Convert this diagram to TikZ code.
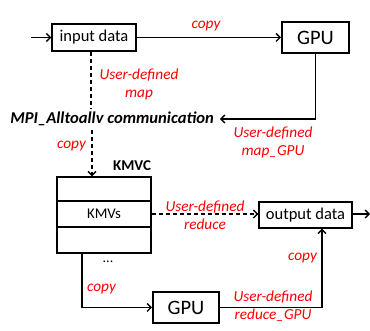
\documentclass[tikz,border=0pt]{standalone}
\usepackage{fontspec}
\setmainfont{Carlito}
\usetikzlibrary{arrows.meta}
\begin{document}
\begin{tikzpicture}[x=1pt,y=-1pt,
  box/.style={draw,line width=1.3pt,inner sep=0pt,font=\fontsize{16.5}{19}\selectfont},
  gpubox/.style={draw,line width=2pt,inner sep=0pt,minimum width=66pt,minimum height=31pt,font=\fontsize{20.5}{24}\selectfont},
  kbox/.style={draw,line width=1.3pt,inner sep=0pt,minimum width=94pt,font=\fontsize{14.8}{17}\selectfont},
  lbl/.style={text=red,font=\fontsize{15.3}{18}\selectfont\itshape,align=center,inner sep=0pt},
  conn/.style={line width=1.4pt},
  arr/.style={conn,-{Straight Barb[length=4pt,width=8pt,line width=1.4pt]}},
  dsh/.style={dash pattern=on 4pt off 3pt}
]
\useasboundingbox (0,0) rectangle (370,331);
% nodes
\node[box,minimum width=84pt,minimum height=27pt] (in) at (94,37.5) {input data};
\node[gpubox,minimum width=67pt] (gpu1) at (315.5,37.5) {GPU};
\node[font=\fontsize{16.6}{19}\selectfont\bfseries\itshape,inner xsep=6pt,inner ysep=4pt] (mpi) at (112,119) {MPI\_Alltoallv communication};
\node[kbox,minimum height=24pt] (k1) at (104,189) {};
\node[kbox,minimum height=26pt] (k2) at (104,214) {KMVs};
\node[kbox,minimum height=26pt] (k3) at (104,240) {};
\node[font=\fontsize{15}{18}\selectfont\bfseries,inner sep=0pt] (kmvc) at (132,166) {KMVC};
\node[box,minimum width=93pt,minimum height=26pt] (out) at (305.5,215) {output data};
\node[gpubox] (gpu2) at (186,307.5) {GPU};
\node[font=\fontsize{14}{17}\selectfont,inner sep=0pt] (dots) at (108,262) {...};
\coordinate (src) at (31,37.5);
\coordinate (sink) at (370,214);
% connectors
\draw[arr] (src) -- (in.west);
\draw[arr] (in.east) -- (gpu1.west);
\draw[arr] (gpu1.south) |- (mpi.east);
\draw[conn,dsh] ([xshift=-3pt]in.south) -- ([xshift=-3pt]in.south |- mpi.north);
\draw[arr,dsh] ([xshift=-12pt]k1.north |- mpi.south) -- ([xshift=-12pt]k1.north);
\draw[arr,dsh] (k2.east) -- (out.west |- k2.east);
\draw[arr] (out.east |- sink) -- (sink);
\draw[arr] ([xshift=-22pt]k3.south) |- (gpu2.west);
\draw[arr] (gpu2.east) -| ([xshift=16.5pt]out.south);
% labels
\node[lbl] (l1) at (206,26) {copy};
\node[lbl] (l2) at (139,84) {User-defined\\map};
\node[lbl] (l3) at (273,142) {User-defined\\map\_GPU};
\node[lbl] (l4) at (71.5,146) {copy};
\node[lbl] (l5) at (205,215.5) {User-defined\\reduce};
\node[lbl] (l6) at (302.5,258) {copy};
\node[lbl] (l7) at (101.5,289) {copy};
\node[lbl] (l8) at (273,306) {User-defined\\reduce\_GPU};
\end{tikzpicture}
\end{document}
